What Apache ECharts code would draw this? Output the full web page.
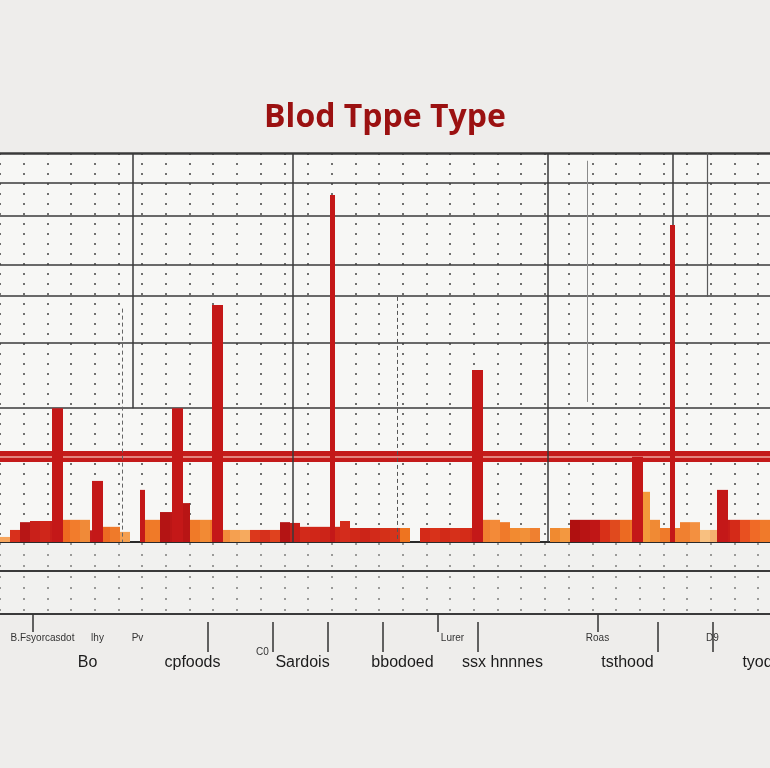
<!DOCTYPE html>
<html>
<head>
<meta charset="utf-8">
<script src="https://cdn.jsdelivr.net/npm/echarts@6/dist/echarts.min.js"></script>
<style>
html,body{margin:0;padding:0;background:#eeedeb;}
#chart{width:770px;height:768px;}
</style>
</head>
<body>
<div id="chart"></div>
<script>
// ---------- data ----------
const titleText = 'Blod Tppe Type';

// short block bars (77 columns)
const blockValues = [
  1.3, 3.1, 5.1, 5.4, 5.4, 5.4, 5.7, 5.7, 5.7, 3.0,
  3.9, 3.9, 2.6, 0, 5.7, 5.7, 7.7, 7.7, 10.0, 5.7,
  5.7, 5.7, 3.1, 3.1, 3.1, 3.1, 3.1, 3.1, 5.1, 4.9,
  3.9, 3.9, 3.9, 3.9, 5.4, 3.6, 3.6, 3.6, 3.6, 3.6,
  3.6, 0, 3.6, 3.6, 3.6, 3.6, 3.6, 3.6, 5.7, 5.7,
  5.1, 3.6, 3.6, 3.6, 0, 3.6, 3.6, 5.7, 5.7, 5.7,
  5.7, 5.7, 5.7, 5.7, 12.9, 5.7, 3.6, 3.6, 5.1, 5.1,
  3.1, 3.1, 5.7, 5.7, 5.7, 5.7, 5.7
];
const blockColors = [
  '#f6a45c','#d8301c','#b71616','#c9201a','#cf261a','#c81e1a','#ee6a20','#f27c2c','#f08a38','#c41a1a',
  '#ec6a22','#ef7a2a','#f5a050','#f08030','#ee7424','#f07a28','#b41414','#bb1616','#b81515','#f07a28',
  '#f28a34','#f07a28','#f28c3a','#f5a050','#f6aa5e','#dc381c','#d6301c','#e0421e','#b41414','#c81e18',
  '#d22a1a','#d02618','#cc2418','#d02818','#d42c1c','#d02818','#cc2418','#d22a1a','#d43018','#d6341a',
  '#ee7420','#ee7420','#d42a18','#d8321a','#d22a18','#d6301a','#d42c18','#d02818','#f08030','#f38a38',
  '#f07a2a','#f28a30','#f29038','#ef8030','#f08030','#f08a30','#f39840','#b01010','#b81414','#c01616',
  '#d83018','#e04a1e','#ec6a22','#ee7426','#f39a3a','#f08a34','#ef7a2a','#f08030','#f08030','#f39040',
  '#f8c080','#f5b070','#c81c18','#d42a18','#e85020','#f06a26','#f07a2a'
];

// tall spikes (fine 154-column scale)
const wideSpikeCols = [11, 19, 35, 43, 95, 127, 144];
const wideSpikeValues = [34.4, 15.7, 34.4, 60.9, 44.2, 21.9, 13.4];
const thinSpikeCols = [28, 66, 134];
const thinSpikeValues = [13.4, 89.2, 81.5];

// reference levels
const gridLevels = [100, 92.3, 83.8, 71.2, 63.2, 51.2, 34.4];
const redLevel = 22.0;

// axis labels (fine 154-column scale)
const bigLabelCols = [17, 38, 60, 80, 100, 125, 151];
const bigLabels = ['Bo', 'cpfoods', 'Sardois', 'bbodoed', 'ssx hnnnes', 'tsthood', 'tyod'];
const smallLabelCols = [8, 19, 27, 52, 90, 119, 142];
const smallLabels = ['B.Fsyorcasdot', 'lhy', 'Pv', '\nC0', 'Lurer', 'Roas', 'D9'];
const shortTickCols = [6, 87, 119];
const longTickCols = [41, 54, 65, 76, 95, 131, 142];

// ---------- build ----------
const N = 154;
const fineCats = Array.from({length: N}, (_, i) => String(i));
const blockCats = blockValues.map((_, i) => String(i));
const dotCats = Array.from({length: 66}, (_, i) => String(i));

function sparse(cols, vals) {
  const arr = new Array(N).fill(null);
  cols.forEach((c, k) => { arr[c] = vals[k]; });
  return arr;
}
const bigLabelArr = new Array(N).fill('');
bigLabelCols.forEach((c, k) => bigLabelArr[c] = bigLabels[k]);
const smallLabelArr = new Array(N).fill('');
smallLabelCols.forEach((c, k) => smallLabelArr[c] = smallLabels[k]);

function vLine(col, from, to, color, width, type) {
  return [
    {coord: [String(col), from], lineStyle: {color: color, width: width, type: type || 'solid'}},
    {coord: [String(col), to]}
  ];
}

const chart = echarts.init(document.getElementById('chart'), null, {renderer: 'canvas'});

const hiddenCat = (grid, data) => ({
  type: 'category', gridIndex: grid, data: data, boundaryGap: true,
  axisLine: {show: false}, axisTick: {show: false}, axisLabel: {show: false}, splitLine: {show: false}
});

chart.setOption({
  animation: false,
  backgroundColor: '#eeedeb',
  title: {
    text: titleText, left: 'center', top: 97,
    textStyle: {color: '#9b1111', fontSize: 32, fontWeight: 'bold', fontFamily: 'Open Sans'}
  },
  grid: [
    {left: 0, right: 0, top: 153, height: 389, show: true, backgroundColor: '#f7f7f5', borderWidth: 0,
      containLabel: false, outerBoundsMode: 'none'},
    {left: 0, right: 0, top: 543, height: 71, show: true, backgroundColor: '#f1f1ef', borderWidth: 0,
      containLabel: false, outerBoundsMode: 'none'}
  ],
  xAxis: [
    // 0 blocks
    {type: 'category', gridIndex: 0, data: blockCats, boundaryGap: true,
      axisLine: {show: true, lineStyle: {color: '#2a2a2a', width: 2}},
      axisTick: {show: false}, axisLabel: {show: false}, splitLine: {show: false}},
    // 1 wide spikes
    hiddenCat(0, fineCats),
    // 2 thin spikes
    hiddenCat(0, fineCats),
    // 3 dot matrix
    {type: 'category', gridIndex: 0, data: dotCats, boundaryGap: false,
      axisLine: {show: false}, axisTick: {show: false}, axisLabel: {show: false},
      splitLine: {show: true, lineStyle: {color: 'rgba(30,30,30,0.62)', width: 2, type: [2, 8]}}},
    // 4 big labels
    {type: 'category', gridIndex: 1, data: bigLabelArr, boundaryGap: true, position: 'bottom',
      axisLine: {show: true, lineStyle: {color: '#3a3a3a', width: 2}},
      axisTick: {show: false},
      axisLabel: {show: true, interval: 0, margin: 41, color: '#1c1c1c', fontSize: 16,
        fontFamily: 'Liberation Sans', hideOverlap: false},
      splitLine: {show: false}},
    // 5 small labels + short ticks
    {type: 'category', gridIndex: 1, data: smallLabelArr, boundaryGap: true, position: 'bottom',
      axisLine: {show: false},
      axisTick: {show: true, alignWithLabel: true, length: 18, lineStyle: {color: '#333', width: 1.5},
        interval: (i) => shortTickCols.includes(i)},
      axisLabel: {show: true, interval: 0, margin: 17, color: '#333', fontSize: 10, lineHeight: 14,
        fontFamily: 'Liberation Sans', hideOverlap: false},
      splitLine: {show: false}},
    // 6 long ticks
    {type: 'category', gridIndex: 1, data: fineCats, boundaryGap: true, position: 'bottom', offset: 8,
      axisLine: {show: false},
      axisTick: {show: true, alignWithLabel: true, length: 30, lineStyle: {color: '#333', width: 1.5},
        interval: (i) => longTickCols.includes(i)},
      axisLabel: {show: false}, splitLine: {show: false}},
    // 7 lower dot matrix
    {type: 'category', gridIndex: 1, data: dotCats, boundaryGap: false,
      axisLine: {show: false}, axisTick: {show: false}, axisLabel: {show: false},
      splitLine: {show: true, lineStyle: {color: 'rgba(30,30,30,0.55)', width: 1.5, type: [2, 9]}}}
  ],
  yAxis: [
    {type: 'value', gridIndex: 0, min: 0, max: 100, show: false, splitLine: {show: false}},
    {type: 'value', gridIndex: 1, min: 0, max: 71, show: false, splitLine: {show: false}}
  ],
  series: [
    {
      name: 'blocks', type: 'bar', xAxisIndex: 0, yAxisIndex: 0, barWidth: '100%', z: 3,
      data: blockValues.map((v, i) => ({value: v, itemStyle: {color: blockColors[i]}}))
    },
    {
      name: 'wide', type: 'bar', xAxisIndex: 1, yAxisIndex: 0, barWidth: 11, z: 5,
      itemStyle: {color: '#c41818'},
      data: sparse(wideSpikeCols, wideSpikeValues),
      markLine: {
        silent: true, symbol: 'none', label: {show: false}, z: 4,
        data: gridLevels.map(v => ({yAxis: v, lineStyle: {color: '#3a3a3a', width: v === 100 ? 2.5 : 1.6, type: 'solid'}}))
          .concat([
            {yAxis: redLevel, lineStyle: {color: '#c41a1a', width: 11, type: 'solid'}},
            {yAxis: redLevel, lineStyle: {color: '#eeaaa2', width: 1.5, type: 'solid'}}
          ])
          .concat([
            vLine(26, 100, 34.4, '#3a3a3a', 1.5),
            vLine(58, 100, 0, '#3a3a3a', 1.5),
            vLine(109, 100, 0, '#3a3a3a', 1.5),
            vLine(134, 100, 0, '#3a3a3a', 1.5),
            vLine(117, 98, 36, '#8a8a8a', 1),
            vLine(141, 100, 63, '#5a5a5a', 1.2),
            vLine(79, 63, 0, '#555', 1, [4, 3]),
            vLine(24, 60, 0, '#666', 1, [4, 3])
          ])
      }
    },
    {
      name: 'thin', type: 'bar', xAxisIndex: 2, yAxisIndex: 0, barWidth: 5, z: 5,
      itemStyle: {color: '#c41818'},
      data: sparse(thinSpikeCols, thinSpikeValues)
    },
    {
      name: 'lower', type: 'line', xAxisIndex: 4, yAxisIndex: 1, symbol: 'none',
      data: new Array(N).fill(null),
      markLine: {
        silent: true, symbol: 'none', label: {show: false},
        data: [
          {yAxis: 43, lineStyle: {color: '#3a3a3a', width: 2, type: 'solid'}},
          [{coord: ['26', 71], lineStyle: {color: '#3a3a3a', width: 1.2, type: 'solid'}}, {coord: ['26', 43]}],
          [{coord: ['58', 71], lineStyle: {color: '#3a3a3a', width: 1.2, type: 'solid'}}, {coord: ['58', 0]}],
          [{coord: ['80', 71], lineStyle: {color: '#3a3a3a', width: 1.2, type: 'solid'}}, {coord: ['80', 43]}],
          [{coord: ['117', 71], lineStyle: {color: '#3a3a3a', width: 1.2, type: 'solid'}}, {coord: ['117', 43]}],
          [{coord: ['74', 39], lineStyle: {color: '#222', width: 2, type: 'solid'}}, {coord: ['74', 2]}]
        ]
      }
    }
  ]
});
</script>
</body>
</html>
